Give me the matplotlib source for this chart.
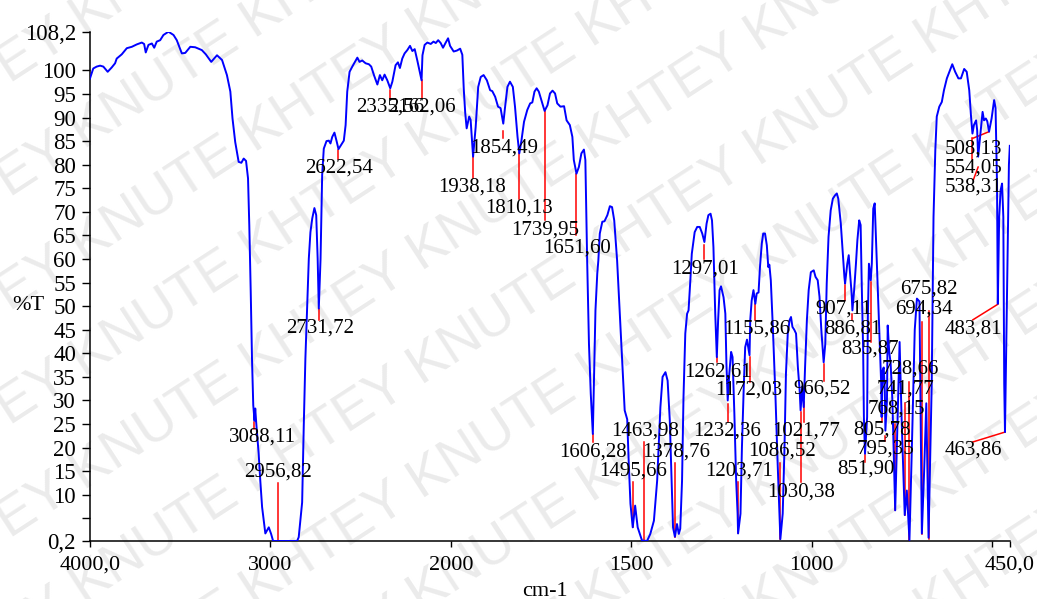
import numpy as np
import matplotlib
matplotlib.use('Agg')
import matplotlib.pyplot as plt

W, H = 1037, 599

# IR spectrum: wavenumber (cm-1) and transmittance (%T)
wavenumber = [4000, 3982, 3963, 3944, 3926, 3902, 3880, 3861, 3852, 3824, 3796, 3768, 3741, 3713,
              3700, 3691, 3676, 3657, 3644, 3630, 3611, 3593, 3565, 3537, 3519, 3491, 3472, 3444,
              3417, 3380, 3358, 3328, 3296, 3268, 3241, 3222, 3210, 3195, 3176, 3161, 3148, 3135,
              3124, 3117, 3109, 3102, 3095, 3088, 3084, 3079, 3070, 3065, 3056, 3046, 3028, 3009,
              2996, 2985, 2852, 2843, 2824, 2815, 2806, 2787, 2778, 2768, 2756, 2746, 2738, 2731.7,
              2722, 2713, 2704, 2689, 2676, 2667, 2657, 2645, 2633, 2622.5, 2611, 2593, 2583, 2574,
              2561, 2546, 2533, 2518, 2506, 2491, 2472, 2454, 2441, 2426, 2407, 2393, 2380, 2367,
              2352, 2335.6, 2324, 2306, 2293, 2282, 2269, 2256, 2241, 2226, 2213, 2200, 2185, 2162,
              2157, 2145, 2130, 2111, 2096, 2083, 2070, 2056, 2043, 2028, 2015, 2004, 1992, 1983,
              1974, 1968, 1964, 1960, 1956, 1949, 1945, 1938.2, 1931, 1924, 1917, 1909, 1900, 1891,
              1885, 1877, 1869, 1862, 1854.5, 1850, 1843, 1836, 1828, 1822, 1815, 1810.1, 1804, 1797,
              1788, 1780, 1774, 1768, 1762, 1756, 1749, 1740, 1732, 1725, 1718, 1711, 1705, 1696,
              1686, 1679, 1670, 1663, 1659, 1651.6, 1645, 1638, 1631, 1627, 1622, 1617, 1612, 1606.3,
              1603, 1599, 1594, 1591, 1587, 1580, 1574, 1566, 1559, 1553, 1547, 1539, 1532, 1525,
              1518, 1514, 1511, 1507, 1502, 1495.7, 1489, 1482, 1470, 1456, 1447, 1437, 1428, 1419,
              1413, 1405, 1399, 1393, 1388, 1384, 1378.8, 1373, 1368, 1364, 1359, 1355, 1350, 1345,
              1341, 1336, 1332, 1324, 1317, 1310, 1303, 1297, 1291, 1286, 1280, 1276, 1272, 1267,
              1262.6, 1259, 1255, 1251, 1244, 1239, 1236, 1232.4, 1228, 1223, 1219, 1214, 1209, 1205,
              1203.7, 1197, 1193, 1188, 1184, 1179, 1172, 1170, 1166, 1161, 1155.9, 1152, 1147, 1143,
              1138, 1134, 1129, 1124, 1120, 1117, 1113, 1107, 1100, 1094, 1089, 1086.5, 1080, 1075,
              1071, 1066, 1061, 1057, 1053, 1048, 1043, 1038, 1033, 1030.4, 1026, 1021.8, 1018, 1013,
              1008, 1002, 994, 989, 983, 978, 973, 966.5, 962, 958, 953, 947, 941, 935,
              930, 926, 919, 914, 909, 907.1, 901, 897, 894, 889, 886.8, 882, 877, 873,
              868, 864, 861, 857, 855, 851.9, 846, 844, 841, 835.9, 833, 829, 825, 822,
              817, 812, 807, 805.8, 803, 800, 797, 795.4, 791, 789, 785, 781, 776, 768.2,
              762, 756, 750, 741.8, 736, 728.7, 722, 714, 708, 701, 694.3, 688, 682, 675.8,
              667, 662, 657, 653, 646, 639, 633, 625, 618, 610, 602, 593, 586, 577,
              570, 563, 558, 554.1, 550, 544, 541, 538.3, 531, 526, 522, 517, 513, 508.1,
              501, 494, 490, 486, 483.8, 480, 476, 472, 468.5, 466, 463.9, 458, 453, 450.5]
transmittance = [98.3, 100.4, 100.8, 101.0, 100.8, 99.7, 100.6, 101.5, 102.5, 103.4, 104.7, 105.0, 105.5, 105.9,
                 105.6, 103.8, 105.4, 105.7, 104.8, 106.1, 106.4, 107.5, 108.2, 107.5, 106.4, 103.6, 103.7, 105.0,
                 104.9, 104.3, 103.4, 101.8, 103.2, 102.2, 99.0, 95.5, 89.8, 84.8, 80.6, 80.4, 81.3, 80.8,
                 77.1, 67.2, 53.0, 38.9, 29.0, 25.7, 28.3, 25.5, 21.0, 18.7, 13.0, 7.4, 1.8, 3.1,
                 1.7, 0.2, 0.2, 1.0, 8.4, 24.7, 38.9, 60.1, 65.7, 68.6, 70.8, 69.3, 60.1, 49.5,
                 60.0, 77.8, 83.4, 85.0, 85.1, 84.5, 85.9, 86.8, 85.0, 83.3, 84.0, 85.1, 88.4, 95.5,
                 99.7, 100.8, 101.7, 102.7, 101.8, 102.1, 101.5, 101.3, 100.8, 99.0, 97.0, 99.0, 97.9, 99.1,
                 97.9, 96.2, 97.6, 101.1, 101.7, 100.5, 102.5, 103.6, 104.3, 105.2, 104.1, 104.5, 102.0, 97.9,
                 103.2, 105.4, 105.9, 105.6, 106.1, 105.8, 106.4, 105.8, 104.8, 105.9, 106.8, 105.2, 104.0, 104.2,
                 104.6, 103.3, 96.0, 91.0, 87.7, 90.2, 89.5, 81.7, 88.0, 96.5, 98.6, 99.0, 97.9, 95.8,
                 95.6, 94.4, 92.3, 92.0, 88.7, 91.9, 96.5, 97.6, 96.5, 92.3, 85.9, 82.4, 85.2, 89.1,
                 91.6, 93.0, 93.2, 95.5, 96.2, 95.5, 93.7, 91.4, 92.6, 95.1, 95.7, 95.1, 93.0, 92.3,
                 92.4, 89.4, 88.4, 85.9, 81.0, 78.1, 79.5, 82.4, 83.2, 81.0, 59.7, 42.0, 31.4, 22.9,
                 35.0, 49.1, 56.9, 59.7, 65.4, 67.9, 68.0, 69.3, 71.2, 71.0, 68.2, 59.7, 49.1, 38.5,
                 27.9, 26.8, 26.0, 17.3, 8.1, 3.1, 7.7, 3.1, 0.3, 0.2, 1.7, 4.5, 13.0, 28.6,
                 35.0, 36.0, 34.2, 25.8, 13.0, 3.1, 1.1, 3.8, 1.7, 2.8, 13.0, 30.7, 44.2, 48.4,
                 49.1, 55.5, 61.1, 65.7, 66.8, 66.8, 65.4, 63.6, 67.5, 69.3, 69.6, 68.2, 62.5, 48.4,
                 39.2, 47.0, 53.4, 54.2, 51.9, 48.4, 37.8, 30.0, 35.7, 40.3, 39.2, 27.2, 13.0, 6.0,
                 1.8, 6.0, 20.1, 32.8, 41.3, 42.9, 39.6, 47.0, 51.2, 53.4, 50.5, 52.7, 52.9, 58.3,
                 63.3, 65.4, 65.4, 62.9, 58.3, 58.8, 55.5, 44.9, 30.7, 16.6, 6.0, 0.6, 6.0, 20.1,
                 35.7, 44.2, 47.0, 47.7, 45.6, 45.0, 44.2, 37.1, 32.1, 27.9, 33.0, 28.6, 37.1, 47.0,
                 53.4, 57.2, 57.6, 56.2, 55.5, 52.0, 45.0, 38.1, 42.0, 54.8, 64.7, 70.3, 72.8, 73.5,
                 73.9, 72.8, 67.5, 61.8, 56.2, 54.8, 59.0, 60.8, 57.6, 52.7, 49.1, 53.4, 59.0, 64.0,
                 68.2, 67.2, 54.8, 40.6, 26.5, 18.7, 26.5, 47.7, 59.0, 55.5, 59.0, 70.7, 71.8, 65.4,
                 54.8, 44.2, 33.5, 26.5, 36.4, 37.0, 32.1, 23.6, 30.0, 45.9, 40.5, 38.0, 30.0, 6.7,
                 25.0, 42.4, 25.0, 5.7, 10.9, 0.4, 20.0, 45.0, 51.6, 51.0, 1.8, 15.0, 29.4, 0.9,
                 33.5, 68.9, 83.1, 90.2, 92.3, 93.3, 95.8, 98.3, 99.7, 101.3, 99.7, 98.3, 98.3, 100.3,
                 99.7, 95.8, 90.2, 86.6, 88.4, 89.4, 87.3, 81.7, 87.3, 91.2, 89.4, 89.8, 89.2, 87.0,
                 89.8, 93.7, 92.0, 76.0, 50.5, 68.9, 74.6, 76.0, 68.9, 33.5, 23.3, 54.8, 80.0, 84.0]

# labelled peaks
peak_wn = [3088.11, 2956.82, 2731.72, 2622.54, 2335.56, 2162.06, 1938.18, 1854.49, 1810.13,
           1739.95, 1651.60, 1606.28, 1495.66, 1463.98, 1378.76, 1297.01, 1262.61, 1232.36,
           1203.71, 1172.03, 1155.86, 1086.52, 1030.38, 1021.77, 966.52, 907.11, 886.81,
           851.90, 835.87, 805.78, 795.35, 768.15, 741.77, 728.66, 694.34, 675.82, 554.05,
           538.31, 508.13, 483.81, 463.86]

# red marker lines: start and end %T, end position in cm-1 (None means vertical)
line_from = [25.5, 12.4, 49.5, 83.1, 95.8, 97.9, 81.7, 87.2, 82.4, 91.4, 78.1, 22.9, 12.7, 21.2,
             16.7, 62.9, 39.2, 29.3, 12.7, 39.2, 50.5, 16.7, 27.5, 29.6, 37.8, 54.4, 48.4, 18.5,
             55.1, 26.5, 22.4, 25.1, 29.4, 33.9, 46.6, 49.0, 85.6, 79.5, 87.0, 50.4, 23.3]
line_to = [24.0, 0.2, 47.0, 81.3, 94.1, 94.1, 77.1, 85.6, 72.8, 68.2, 65.0, 21.2, 3.1, 0.2,
           1.1, 59.9, 38.1, 25.4, 1.8, 33.9, 47.0, 0.6, 12.7, 25.4, 34.2, 51.2, 47.0, 16.9,
           42.4, 25.4, 21.5, 6.7, 5.7, 0.4, 1.7, 0.6, 81.3, 76.9, 85.6, 47.1, 21.2]
line_end_wn = [None] * 37 + [551, 553, 553, 553]

# label centres in figure pixels, measured from the top left
label_xy = [(262, 437), (278, 472), (320, 328), (339, 168), (390, 107), (421.5, 107),
            (472.5, 187), (504, 148), (519, 208), (545.5, 230), (577.5, 248), (593, 452),
            (633, 471), (645.5, 431), (675.7, 452), (705, 269), (717.5, 372), (727.5, 431),
            (739, 471), (749, 390), (756.5, 329), (782.5, 451), (801.5, 492), (806.5, 431),
            (822.5, 389), (844, 309), (852.5, 329), (866, 469), (870.5, 349), (882.5, 430),
            (886, 449), (896, 409), (906, 389), (910, 369), (923.5, 309), (929, 289),
            (973.5, 168), (973.5, 187), (973.5, 149), (973.5, 329), (973.5, 450)]

yticks = [0.2, 5, 10, 15, 20, 25, 30, 35, 40, 45, 50, 55, 60, 65, 70, 75, 80, 85, 90, 95, 100, 108.2]
ytick_labels = ['0,2', ''] + [str(v) for v in range(10, 101, 5)] + ['108,2']
xticks = [4000, 3000, 2000, 1500, 1000, 500, 450]
xtick_labels = ['4000,0', '3000', '2000', '1500', '1000', '', '450,0']


def fwd(x):
    # the range above 2000 cm-1 is drawn at half scale
    x = np.asarray(x, dtype=float)
    return np.where(x > 2000, 2000 + (x - 2000) / 2, x)


def inv(u):
    u = np.asarray(u, dtype=float)
    return np.where(u > 2000, 2000 + (u - 2000) * 2, u)


plt.rcParams['font.family'] = ['Liberation Serif', 'DejaVu Serif']

fig = plt.figure(figsize=(W / 100, H / 100), dpi=100)
ax = fig.add_axes([90 / W, 58 / H, 920 / W, 509.3 / H])
ax.patch.set_alpha(0)

# watermark
wm = 'KHTEY KNUTE ' * 8
for k in range(-7, 9):
    fig.text(-0.08, k * 0.19, wm, rotation=33, rotation_mode='anchor', fontsize=40,
             color='#ebebeb', family='Liberation Sans', zorder=-5, ha='left', va='baseline')

ax.set_xscale('function', functions=(fwd, inv))
ax.plot(wavenumber, transmittance, color='blue', linewidth=1.4, zorder=3)

for w, y1, y2, we in zip(peak_wn, line_from, line_to, line_end_wn):
    ax.plot([w, w if we is None else we], [y1, y2], color='red', linewidth=1.1, zorder=2)

for w, (px, py) in zip(peak_wn, label_xy):
    s = '{:.2f}'.format(w).replace('.', ',')
    fig.text(px / W, 1 - py / H, s, ha='center', va='center', fontsize=15, zorder=4)

ax.set_xlim(4000, 450)
ax.set_ylim(0.2, 108.2)
ax.set_xticks(xticks)
ax.set_xticklabels(xtick_labels)
ax.set_yticks(yticks)
ax.set_yticklabels(ytick_labels)
ax.minorticks_off()
ax.tick_params(axis='y', direction='out', length=6, width=1, labelsize=16.5, pad=4)
ax.tick_params(axis='x', direction='out', length=4.5, width=1, labelsize=16, pad=6)
for side in ['top', 'right']:
    ax.spines[side].set_visible(False)
for side in ['left', 'bottom']:
    ax.spines[side].set_linewidth(1.1)

fig.text(28 / W, 1 - 305 / H, '%T', ha='center', va='center', fontsize=16)
fig.text(545 / W, 1 - 591 / H, 'cm-1', ha='center', va='center', fontsize=16)

fig.savefig('out.png', dpi=100)
